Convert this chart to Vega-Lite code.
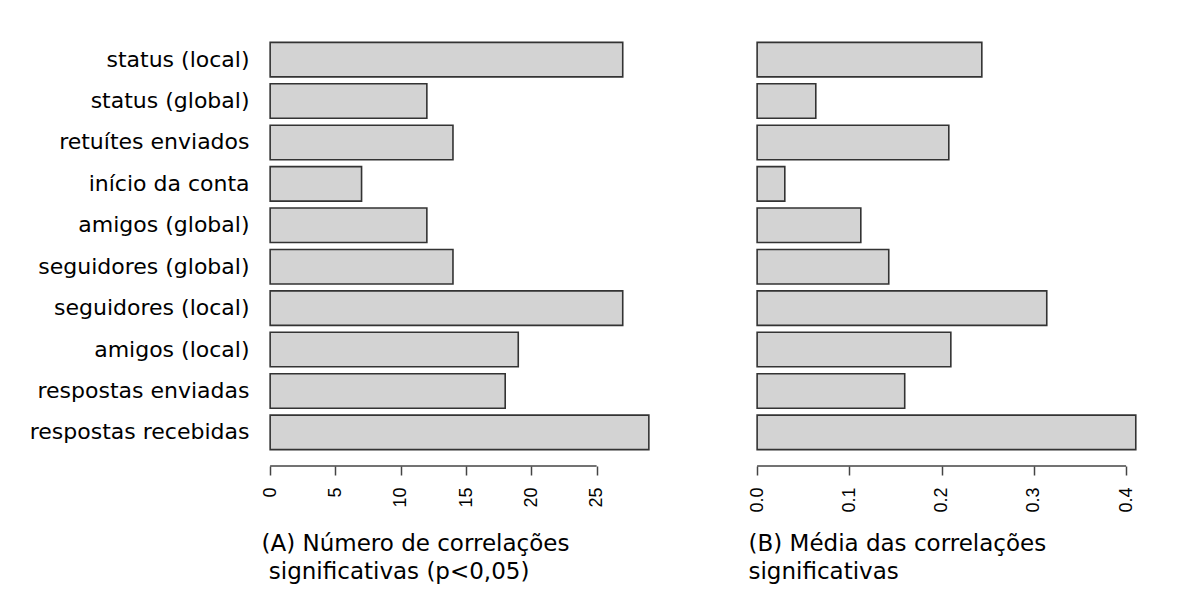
{
  "$schema": "https://vega.github.io/schema/vega-lite/v6.json",
  "background": "white",
  "padding": {"left": 5, "top": 26, "right": 5, "bottom": 5},
  "config": {"view": {"stroke": null}},
  "datasets": {
    "corr": [
      {"item": "status (local)", "count": 27, "mean": 0.2436},
      {"item": "status (global)", "count": 12, "mean": 0.0636},
      {"item": "retuítes enviados", "count": 14, "mean": 0.2078},
      {"item": "início da conta", "count": 7, "mean": 0.030},
      {"item": "amigos (global)", "count": 12, "mean": 0.1124},
      {"item": "seguidores (global)", "count": 14, "mean": 0.1427},
      {"item": "seguidores (local)", "count": 27, "mean": 0.314},
      {"item": "amigos (local)", "count": 19, "mean": 0.210},
      {"item": "respostas enviadas", "count": 18, "mean": 0.160},
      {"item": "respostas recebidas", "count": 29, "mean": 0.4105}
    ]
  },
  "spacing": 78,
  "hconcat": [
    {
      "width": 409,
      "height": 440,
      "layer": [
        {
          "data": {"name": "corr"},
          "mark": {"type": "bar", "fill": "#d3d3d3", "stroke": "#333333", "strokeWidth": 1.6},
          "encoding": {
            "y": {
              "field": "item", "type": "nominal", "sort": null,
              "scale": {"paddingInner": 0.1667, "paddingOuter": 0.395},
              "axis": {"title": null, "domain": false, "ticks": false, "labelPadding": 6, "labelFont": "DejaVu Sans", "labelFontSize": 22, "labelColor": "#000000", "labelLimit": 400, "minExtent": 250, "maxExtent": 250}
            },
            "x": {
              "field": "count", "type": "quantitative",
              "scale": {"domain": [-1.16, 30.16], "nice": false, "zero": false},
              "axis": {
                "values": [0, 5, 10, 15, 20, 25],
                "grid": false, "domain": false,
                "tickColor": "#444444", "tickWidth": 1.5, "tickSize": 9,
                "labelAngle": -90, "labelPadding": 12, "labelFont": "Liberation Sans", "labelFontSize": 18, "labelColor": "#000000",
                "title": ["(A) Número de correlações", "\u200b\u00a0significativas (p<0,05)"],
                "titleFont": "DejaVu Sans", "titleFontSize": 23, "titleFontWeight": "normal", "titleColor": "#000000",
                "titleAlign": "left", "titleAnchor": "start", "titleBaseline": "alphabetic",
                "titleX": 6, "titleY": 84, "titleLineHeight": 28
              }
            }
          }
        },
        {
          "data": {"values": [{}]},
          "mark": {"type": "rule", "color": "#444444", "strokeWidth": 1.5},
          "encoding": {
            "x": {"datum": 0, "type": "quantitative", "scale": {"domain": [-1.16, 30.16], "nice": false, "zero": false}},
            "x2": {"datum": 25},
            "y": {"value": "height"}
          }
        }
      ]
    },
    {
      "width": 409,
      "height": 440,
      "layer": [
        {
          "data": {"name": "corr"},
          "mark": {"type": "bar", "fill": "#d3d3d3", "stroke": "#333333", "strokeWidth": 1.6},
          "encoding": {
            "y": {
              "field": "item", "type": "nominal", "sort": null,
              "scale": {"paddingInner": 0.1667, "paddingOuter": 0.395},
              "axis": null
            },
            "x": {
              "field": "mean", "type": "quantitative",
              "scale": {"domain": [-0.0164, 0.427], "nice": false, "zero": false},
              "axis": {
                "values": [0, 0.1, 0.2, 0.3, 0.4], "format": ".1f",
                "grid": false, "domain": false,
                "tickColor": "#444444", "tickWidth": 1.5, "tickSize": 9,
                "labelAngle": -90, "labelPadding": 12, "labelFont": "Liberation Sans", "labelFontSize": 18, "labelColor": "#000000",
                "title": ["(B) Média das correlações", "significativas"],
                "titleFont": "DejaVu Sans", "titleFontSize": 23, "titleFontWeight": "normal", "titleColor": "#000000",
                "titleAlign": "left", "titleAnchor": "start", "titleBaseline": "alphabetic",
                "titleX": 6, "titleY": 84, "titleLineHeight": 28
              }
            }
          }
        },
        {
          "data": {"values": [{}]},
          "mark": {"type": "rule", "color": "#444444", "strokeWidth": 1.5},
          "encoding": {
            "x": {"datum": 0, "type": "quantitative", "scale": {"domain": [-0.0164, 0.427], "nice": false, "zero": false}},
            "x2": {"datum": 0.4},
            "y": {"value": "height"}
          }
        }
      ]
    }
  ]
}
